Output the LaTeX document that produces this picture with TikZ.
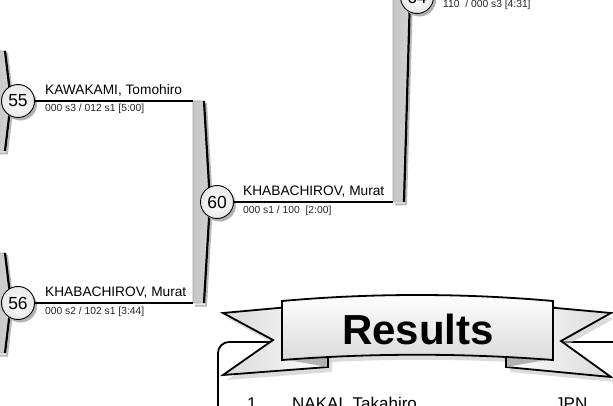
\documentclass[tikz,border=0pt]{standalone}
\usepackage{fontspec}
\setmainfont{Liberation Sans}
\tikzset{
  conn/.style={line width=1.8pt, black},
  circ/.style={circle, draw=black, line width=0.9pt, minimum size=33pt, inner sep=0pt,
    inner color=white, outer color=gray!18, font=\fontsize{17.5}{18}\selectfont},
  cshadow/.style={circle, fill=gray!60, minimum size=33pt, inner sep=0pt},
  nametxt/.style={anchor=base west, inner sep=0pt, font=\fontsize{13.7}{14}\selectfont},
  subtxt/.style={anchor=base west, inner sep=0pt, font=\fontsize{10.3}{11}\selectfont, text=black!85},
  barbody/.style={left color=gray!45, middle color=gray!5, right color=gray!35},
  tailfill/.style={left color=gray!30, right color=white, draw=black, line width=1.8pt, line join=miter},
  ribfill/.style={top color=white, bottom color=gray!28, draw=black, line width=1.8pt, line join=miter},
  foldfill/.style={fill=gray!60},
  boxtxt/.style={anchor=base west, inner sep=0pt, font=\fontsize{17}{18}\selectfont}
}
\newcommand\bkbar[4]{% L, T, M, B
  \draw[gray!55, line width=2pt] ({#1+13},{#2+2}) -- ({#1+19},{#3+2}) -- ({#1+13},{#4+2.5}) -- ({#1+2},{#4+2.5});
  \path[barbody, draw=gray!70, line width=0.6pt] (#1,#2) -- ({#1+11},#2) -- ({#1+17},#3) -- ({#1+11},#4) -- (#1,#4) -- cycle;
  \draw[line width=2.2pt, line join=miter] ({#1+11},#2) -- ({#1+17},#3) -- ({#1+11},#4);
}
\begin{document}
\begin{tikzpicture}[x=1pt,y=-1pt]
\useasboundingbox (0,0) rectangle (613,406);
\clip (0,0) rectangle (613,406);
\fill[white] (0,0) rectangle (613,406);

% bars
\bkbar{-6}{51}{101}{151}
\bkbar{-6}{253}{303}{353}
\bkbar{193}{101}{202}{303}
\bkbar{393}{-210}{-3}{202}

% connector end points
\coordinate (t60) at (193,101);
\coordinate (b60) at (193,303);
\coordinate (b64) at (393,202);

% circle shadows
\node[cshadow] at (20.5,104) {};
\node[cshadow] at (20.5,306) {};
\node[cshadow] at (219.5,205) {};
\node[cshadow] at (419.5,0) {};

% match circles
\node[circ] (m55) at (18,101) {55};
\node[circ] (m56) at (18,303) {56};
\node[circ] (m60) at (217,202) {60};
\node[circ] (m64) at (417,-3) {64};

% connectors
\draw[conn] (m55) -- (t60);
\draw[conn] (m56) -- (b60);
\draw[conn] (m60) -- (b64);

% labels
\node[nametxt] (n55) at (45,95) {KAWAKAMI, Tomohiro};
\node[subtxt] (s55) at (45,112) {000 s3 / 012 s1 [5:00]};
\node[nametxt] (n56) at (45,296) {KHABACHIROV, Murat};
\node[subtxt] (s56) at (45,314) {000 s2 / 102 s1 [3:44]};
\node[nametxt] (n60) at (243,196) {KHABACHIROV, Murat};
\node[subtxt] (s60) at (243,214) {000 s1 / 100\ \ [2:00]};
\node[subtxt] (s64) at (443,8) {110\ \ / 000 s3 [4:31]};

% results box
\draw[line width=1.8pt, rounded corners=11pt, fill=white] (218,460) -- (218,342) -- (660,342) -- (660,460);
\node[boxtxt] (r1) at (247,409) {1};
\node[boxtxt] (r1n) at (292,409) {NAKAI, Takahiro};
\node[boxtxt] (r1c) at (555,409) {JPN};

% banner shadow
\begin{scope}[shift={(4,5)}]
  \fill[gray!45, opacity=0.6] (223,313) -- (300,306) -- (328,357) -- (328,367) -- (223,375) -- (273,340) -- cycle;
  \fill[gray!45, opacity=0.6] (611,313) -- (534,306) -- (506,357) -- (506,367) -- (611,377) -- (561,341) -- cycle;
  \fill[gray!45, opacity=0.6] (282,301) .. controls (372,293) and (462,293) .. (553,301) -- (553,360) .. controls (462,353) and (372,353) .. (282,360) -- cycle;
\end{scope}

% tails
\path[tailfill] (223,313) -- (300,306) -- (328,357) -- (328,367) -- (223,375) -- (273,340) -- cycle;
\path[tailfill, left color=white, right color=gray!30] (611,313) -- (534,306) -- (506,357) -- (506,367) -- (611,377) -- (561,341) -- cycle;
\fill[foldfill] (282,359) -- (328,357) -- (328,367) -- cycle;
\fill[foldfill] (552,359) -- (506,357) -- (506,367) -- cycle;
\draw[line width=1.8pt] (328,357) -- (328,367.9);
\draw[line width=1.8pt] (506,357) -- (506,367.9);

% ribbon
\path[ribfill] (282,301) .. controls (372,293) and (462,293) .. (553,301) -- (553,360) .. controls (462,353) and (372,353) .. (282,360) -- cycle;
\node[anchor=base, inner sep=0pt, font=\bfseries\fontsize{42}{42}\selectfont] (res) at (418,344) {Results};
\end{tikzpicture}
\end{document}
